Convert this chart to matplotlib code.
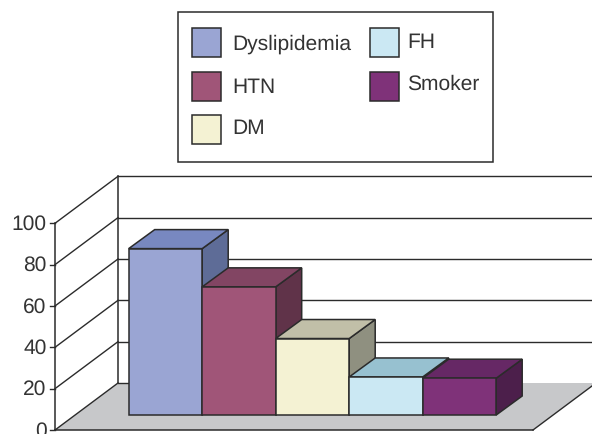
import matplotlib
matplotlib.use('Agg')
from matplotlib import pyplot as plt
from matplotlib.patches import Polygon, Rectangle

categories = ['Dyslipidemia', 'HTN', 'DM', 'FH', 'Smoker']
values = [80.5, 62, 37, 18.4, 17.8]
y_ticks = [0, 20, 40, 60, 80, 100]

front_colors = ['#9aa5d3', '#a05578', '#f4f2d3', '#cbe8f3', '#7f3279']
top_colors = ['#7888c0', '#824563', '#c1bfa8', '#97c1d0', '#662865']
side_colors = ['#5e6c97', '#603349', '#8f9080', '#6f8c98', '#4c1f4b']
edge = '#2b2b2b'

plt.rcParams['font.family'] = ['Liberation Sans', 'DejaVu Sans']
plt.rcParams['text.hinting'] = 'none'
plt.rcParams['text.hinting_factor'] = 1

# pixel layout of the fake 3d box
x0, y0 = 55, 430          # front corner of the value axis
px_per_unit = 2.067
wall_dx, wall_dy = 63, 47  # front to back wall
floor_right = 533
bar_x0, bar_base = 128.7, 415
bar_w = 73.5
bar_dx, bar_dy = 26, 19


def val_y(v):
    return y0 - v * px_per_unit


fig = plt.figure(figsize=(5.92, 4.34), dpi=100)
ax = fig.add_axes([0, 0, 1, 1])
ax.set_xlim(0, 592)
ax.set_ylim(434, 0)
ax.axis('off')

# floor
ax.add_patch(Polygon([(x0, y0), (floor_right, y0),
                      (floor_right + wall_dx, y0 - wall_dy), (x0 + wall_dx, y0 - wall_dy)],
                     fc='#c7c8ca', ec='none', zorder=1))
ax.plot([floor_right, floor_right + wall_dx], [y0, y0 - wall_dy], color=edge, lw=1.0, zorder=1.5)
ax.plot([x0, floor_right], [y0, y0], color=edge, lw=1.1, zorder=1.5)
ax.plot([x0 + wall_dx, bar_x0 + 12], [y0 - wall_dy, y0 - wall_dy], color=edge, lw=1.0, zorder=1.5)

# grid lines on the walls, ticks and labels
for t in y_ticks:
    y = val_y(t)
    ax.plot([x0, x0 + wall_dx], [y, y - wall_dy], color=edge, lw=1.0, zorder=2)
    ax.plot([x0 - 5, x0], [y, y], color=edge, lw=1.0, zorder=2)
    if t > 0:
        ax.plot([x0 + wall_dx, 592], [y - wall_dy, y - wall_dy], color=edge, lw=1.0, zorder=2)
    ax.text(46.5, y + 1, str(t), ha='right', va='center', fontsize=15, color='#333333', zorder=3)
ax.plot([x0, x0], [val_y(0), val_y(100)], color=edge, lw=1.1, zorder=2)
ax.plot([x0 + wall_dx, x0 + wall_dx], [y0 - wall_dy, val_y(100) - wall_dy], color=edge, lw=1.1, zorder=2)

# bars, left to right so each one covers the side of the last
for i, v in enumerate(values):
    x1 = bar_x0 + i * bar_w
    x2 = x1 + bar_w
    top = bar_base - v * px_per_unit
    z = 4 + i
    ax.add_patch(Polygon([(x2, bar_base), (x2 + bar_dx, bar_base - bar_dy),
                          (x2 + bar_dx, top - bar_dy), (x2, top)],
                         fc=side_colors[i], ec=edge, lw=1.1, zorder=z))
    ax.add_patch(Polygon([(x1, top), (x2, top), (x2 + bar_dx, top - bar_dy), (x1 + bar_dx, top - bar_dy)],
                         fc=top_colors[i], ec=edge, lw=1.1, zorder=z))
    ax.add_patch(Rectangle((x1, top), bar_w, bar_base - top,
                           fc=front_colors[i], ec=edge, lw=1.1, zorder=z))

# legend
ax.add_patch(Rectangle((178, 12), 315, 150, fc='white', ec=edge, lw=1.1, zorder=10))
swatch_pos = [(192, 27.5), (192, 71.5), (192, 114.5), (369.5, 27.5), (369.5, 71.5)]
label_pos = [(232.5, 44.5), (232.5, 87.5), (232.5, 128.5), (407.5, 42.5), (407.5, 84.5)]
for i, name in enumerate(categories):
    ax.add_patch(Rectangle(swatch_pos[i], 29, 29, fc=front_colors[i], ec=edge, lw=1.1, zorder=11))
    ax.text(label_pos[i][0], label_pos[i][1], name, ha='left', va='center',
            fontsize=15, color='#333333', zorder=11)

fig.savefig('out.png', dpi=100)
